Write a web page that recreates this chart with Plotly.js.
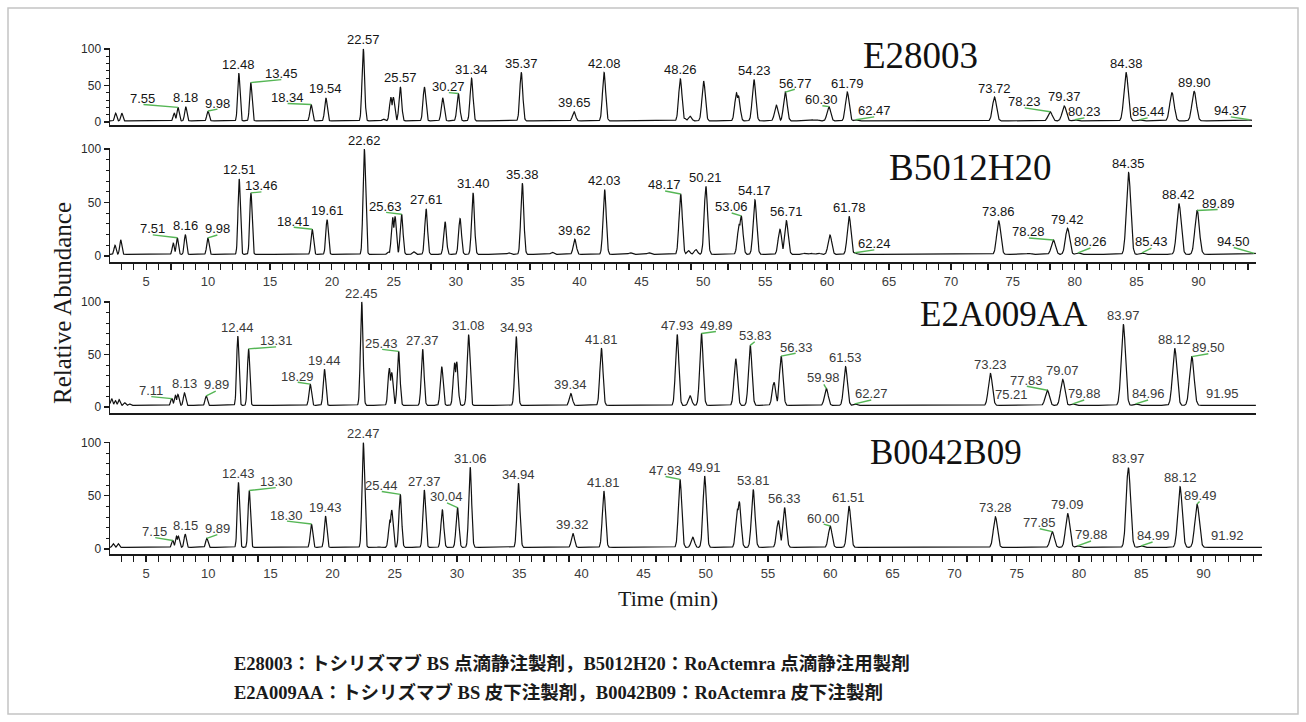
<!DOCTYPE html>
<html>
<head>
<meta charset="utf-8">
<script src="https://cdn.plot.ly/plotly-3.0.1.min.js"></script>
<style>
  html, body { margin: 0; padding: 0; background: #ffffff; }
  #chart { width: 1306px; height: 722px; }
</style>
</head>
<body>
<div id="chart"></div>
<script>
// ---- Sample names (one chromatogram per lot) ----
const sampleNames = ['E28003', 'B5012H20', 'E2A009AA', 'B0042B09'];

// ---- Peak tables: retention time (min) and apex relative abundance (%) ----
const rtE28003 = [2.5, 3.0, 7.25, 7.55, 8.18, 9.98, 12.48, 13.45, 18.34, 19.54, 22.57, 24.2, 24.8, 25.0, 25.57, 27.52, 29.0, 30.27, 31.34, 35.37, 39.65, 42.08, 48.26, 48.6, 49.04, 50.15, 52.81, 52.96, 54.23, 56.04, 56.77, 58.9, 59.3, 60.30, 61.79, 62.47, 73.72, 78.23, 79.37, 80.23, 84.38, 85.44, 88.1, 89.90, 94.37];
const hE28003  = [12, 12, 12, 20, 21, 15, 67, 54, 24, 33, 100, 4, 34, 34, 48, 48, 33, 39, 60, 68, 14, 68, 59, 5, 8, 56, 40, 36, 58, 23, 41, 3, 3, 21, 41, 3, 34, 14, 22, 3, 68, 3, 40, 42, 3];

const rtB5012H20 = [2.48, 2.94, 7.19, 7.51, 8.16, 9.98, 12.51, 13.46, 18.41, 19.61, 22.62, 24.6, 24.91, 25.1, 25.63, 26.6, 27.61, 29.14, 30.35, 31.40, 34.3, 35.38, 37.8, 39.62, 42.03, 44.1, 45.6, 48.17, 48.8, 49.4, 50.21, 52.9, 53.06, 54.17, 56.19, 56.71, 58.2, 58.7, 59.3, 60.23, 61.78, 62.24, 73.86, 76.3, 78.28, 79.42, 80.26, 84.35, 85.43, 88.42, 89.89, 94.50];
const hB5012H20  = [10, 15, 12, 17, 20, 17, 72, 59, 25, 34, 100, 4, 36, 37, 39, 4, 44, 32, 35, 59, 3, 68, 3.5, 15.6, 62, 3, 3, 58, 5, 6, 65, 30, 37.5, 52.5, 25, 33, 2.5, 2.5, 2.5, 19.7, 37, 3, 33, 2.5, 15, 26, 3, 78, 3, 49, 42.5, 2.5];

const rtE2A009AA = [2.25, 2.55, 2.85, 3.3, 3.7, 7.11, 7.4, 7.6, 8.13, 9.89, 12.44, 13.31, 18.29, 19.44, 22.45, 24.68, 24.87, 25.43, 27.37, 28.91, 29.95, 30.12, 31.08, 34.93, 37.6, 39.34, 41.81, 44.1, 45.6, 47.93, 48.97, 49.89, 52.66, 53.83, 55.75, 56.33, 59.98, 61.53, 62.27, 73.23, 75.21, 77.83, 79.07, 79.88, 83.97, 84.96, 88.12, 89.50, 91.95];
const hE2A009AA  = [8, 6, 7, 4, 3, 8, 11, 12, 13.5, 10.5, 67.6, 55.4, 21.8, 36, 100, 37, 33, 53, 55, 38.5, 42, 43, 69, 67, 2, 12.8, 56, 2, 2, 69, 10.6, 70, 46, 58.7, 23.4, 48.4, 17.6, 38.5, 3, 32, 2, 16, 26.3, 3, 78.7, 3, 55.9, 48, 2];

const rtB0042B09 = [2.37, 2.77, 7.15, 7.45, 7.6, 8.15, 9.89, 12.43, 13.30, 18.30, 19.43, 22.47, 23.7, 24.6, 24.75, 25.44, 27.37, 28.82, 30.04, 31.06, 33.7, 34.94, 37.6, 39.32, 41.81, 47.93, 48.95, 49.91, 52.55, 52.69, 53.81, 55.83, 56.33, 60.00, 61.51, 73.28, 77.85, 79.09, 79.88, 83.97, 84.99, 88.12, 89.49, 91.92];
const hB0042B09  = [5, 5, 8, 12, 12, 14, 10, 62.7, 55, 23.5, 31, 100, 2, 27, 36.7, 51.4, 55.5, 37, 39, 76.8, 2, 61.8, 2, 14.7, 54.5, 65.5, 11, 68.6, 38, 44.5, 56, 26.6, 39, 21.6, 40.4, 30.4, 16.3, 33.5, 3, 76.5, 3, 58.6, 42.3, 2];

// ---- Peak labels (retention times printed above the peaks) ----
const labE28003 = ['7.55', '8.18', '9.98', '12.48', '13.45', '18.34', '19.54', '22.57', '25.57', '30.27', '31.34', '35.37', '39.65', '42.08', '48.26', '54.23', '56.77', '60.30', '61.79', '62.47', '73.72', '78.23', '79.37', '80.23', '84.38', '85.44', '89.90', '94.37'];
const labB5012H20 = ['7.51', '8.16', '9.98', '12.51', '13.46', '18.41', '19.61', '22.62', '25.63', '27.61', '31.40', '35.38', '39.62', '42.03', '48.17', '50.21', '53.06', '54.17', '56.71', '61.78', '62.24', '73.86', '78.28', '79.42', '80.26', '84.35', '85.43', '88.42', '89.89', '94.50'];
const labE2A009AA = ['7.11', '8.13', '9.89', '12.44', '13.31', '18.29', '19.44', '22.45', '25.43', '27.37', '31.08', '34.93', '39.34', '41.81', '47.93', '49.89', '53.83', '56.33', '59.98', '61.53', '62.27', '73.23', '75.21', '77.83', '79.07', '79.88', '83.97', '84.96', '88.12', '89.50', '91.95'];
const labB0042B09 = ['7.15', '8.15', '9.89', '12.43', '13.30', '18.30', '19.43', '22.47', '25.44', '27.37', '30.04', '31.06', '34.94', '39.32', '41.81', '47.93', '49.91', '53.81', '56.33', '60.00', '61.51', '73.28', '77.85', '79.09', '79.88', '83.97', '84.99', '88.12', '89.49', '91.92'];

// ---- Caption ----
const captionLines = [
  'E28003：トシリズマブ BS 点滴静注製剤，B5012H20：RoActemra 点滴静注用製剤',
  'E2A009AA：トシリズマブ BS 皮下注製剤，B0042B09：RoActemra 皮下注製剤'
];

// ---------------------------------------------------------------------------
// Layout of the four stacked panels (pixel geometry of the page)
const W = 1306, H = 722;
const panelGeom = [
  { zeroPx: 122, pxPer: 0.73,  axisPx: 125, x0Px: 110, x1Px: 1252, xmap: [84.8, 12.34], ticks: false, labColor: '#151515', name: { x: 920,  y: 55,  size: 37 } },
  { zeroPx: 256, pxPer: 1.07,  axisPx: 262, x0Px: 110, x1Px: 1256, xmap: [84.3, 12.38], ticks: true,  labColor: '#151515', name: { x: 970,  y: 167, size: 37 } },
  { zeroPx: 407, pxPer: 1.05,  axisPx: 413, x0Px: 110, x1Px: 1256, xmap: [83.8, 12.38], ticks: false, labColor: '#3a3a3a', name: { x: 1004, y: 314, size: 35 } },
  { zeroPx: 549, pxPer: 1.063, axisPx: 554, x0Px: 110, x1Px: 1262, xmap: [83.8, 12.44], ticks: true,  labColor: '#3a3a3a', name: { x: 946,  y: 452, size: 35 } }
];

// Label placement (pixel offset of the text centre from the peak apex);
// entries flagged true get a green leader line back to the peak.
const labelPlacement = [
  { '7.55': [-35, -9, true], '9.98': [10, -8, true], '13.45': [31, -9, true], '18.34': [-24, -7, true], '30.27': [-10, -7, true],
    '56.77': [10, -9, true], '60.30': [-7, -7, true], '62.47': [19, -9, true], '78.23': [-26, -10, true], '80.23': [10, -8, true],
    '85.44': [9, -8, true], '94.37': [-19, -9, true] },
  { '7.51': [-25, -9, true], '9.98': [10, -9, true], '13.46': [11, -7, true], '18.41': [-19, -8, true], '25.63': [-16, -8, true],
    '48.17': [-16, -9, true], '53.06': [-10, -9, true], '62.24': [20, -9, true], '78.28': [-25, -8, true], '80.26': [13, -11, true],
    '85.43': [10, -11, true], '89.89': [21, -7, true], '94.50': [-21, -12, true] },
  { '7.11': [-21, -8, true], '9.89': [10, -11, true], '13.31': [28, -8, true], '18.29': [-13, -8, true], '25.43': [-17, -8, true],
    '49.89': [15, -8, true], '53.83': [5, -10, true], '56.33': [15, -9, true], '59.98': [-3, -11, true], '62.27': [17, -10, true],
    '75.21': [-3, -10, false], '77.83': [-21, -10, true], '79.88': [12, -10, true], '84.96': [13, -10, true], '89.50': [17, -9, true],
    '91.95': [0, -11, false] },
  { '7.15': [-18, -9, true], '9.89': [11, -10, true], '13.30': [27, -9, true], '18.30': [-25, -9, true], '25.44': [-19, -9, true],
    '30.04': [-11, -11, true], '47.93': [-15, -9, true], '60.00': [-7, -8, true], '77.85': [-13, -9, true], '79.88': [14, -11, true],
    '84.99': [12, -10, true], '89.49': [3, -9, true], '91.92': [0, -11, false] }
];

const peakTables = [
  [rtE28003, hE28003, labE28003],
  [rtB5012H20, hB5012H20, labB5012H20],
  [rtE2A009AA, hE2A009AA, labE2A009AA],
  [rtB0042B09, hB0042B09, labB0042B09]
];

const BASE = 1.5;          // baseline level of the detector trace (%)
const STEP = 0.02;         // sampling step of the drawn trace (min)
const peakSigma = rt => 0.08 + 0.0011 * rt;   // peaks broaden later in the run

// Build a trace from its peak table: Gaussian peak shapes on a flat baseline
function buildTrace(rts, hs, t0, t1) {
  const xs = [], ys = [];
  for (let t = t0; t <= t1 + 1e-9; t += STEP) {
    let y = BASE;
    for (let i = 0; i < rts.length; i++) {
      const s = peakSigma(rts[i]);
      const d = (t - rts[i]) / s;
      if (Math.abs(d) > 6) continue;
      const v = BASE + (hs[i] - BASE) * Math.exp(-0.5 * d * d);
      if (v > y) y = v;
    }
    xs.push(+t.toFixed(3));
    ys.push(y);
  }
  // make sure every apex is sampled exactly
  rts.forEach((r, i) => { if (r >= t0 && r <= t1) { xs.push(r); ys.push(hs[i]); } });
  const order = xs.map((x, i) => i).sort((a, b) => xs[a] - xs[b]);
  return { x: order.map(i => xs[i]), y: order.map(i => ys[i]) };
}

const pxX = px => px / W;
const pxY = py => 1 - py / H;
const LABEL_FONT = 'Arial, "Liberation Sans", sans-serif';
const SERIF = '"Liberation Serif", "Times New Roman", serif';

const traces = [];
const annotations = [];
const layout = {
  width: W, height: H,
  margin: { l: 0, r: 0, t: 0, b: 0 },
  paper_bgcolor: '#ffffff',
  plot_bgcolor: 'rgba(0,0,0,0)',
  showlegend: false,
  font: { family: LABEL_FONT, color: '#222' },
  shapes: [
    { type: 'rect', xref: 'paper', yref: 'paper',
      x0: pxX(8), x1: pxX(1298), y0: pxY(714), y1: pxY(8),
      line: { color: '#c4c4c4', width: 1.5 }, fillcolor: 'rgba(0,0,0,0)' }
  ],
  annotations: annotations
};

panelGeom.forEach((g, p) => {
  const suffix = p === 0 ? '' : String(p + 1);
  const xName = 'x' + suffix, yName = 'y' + suffix;
  const t0 = (g.x0Px - g.xmap[0]) / g.xmap[1];
  const t1 = (g.x1Px - g.xmap[0]) / g.xmap[1];
  const yBottom = -(g.axisPx - g.zeroPx) / g.pxPer;
  const yTop = 101;
  const topPx = g.zeroPx - yTop * g.pxPer;

  const [rts, hs, labs] = peakTables[p];
  const tr = buildTrace(rts, hs, t0, t1);
  traces.push({
    type: 'scatter', mode: 'lines', x: tr.x, y: tr.y,
    xaxis: xName, yaxis: yName,
    line: { color: '#111111', width: 1.2 },
    hoverinfo: 'skip'
  });

  layout['xaxis' + suffix] = {
    domain: [pxX(g.x0Px), pxX(g.x1Px)],
    range: [t0, t1],
    anchor: yName,
    showgrid: false, zeroline: false,
    showline: true, linecolor: '#1a1a1a', linewidth: 2,
    ticks: g.ticks ? 'outside' : '',
    ticklen: 6, tickwidth: 1.2, tickcolor: '#1a1a1a',
    tick0: 0, dtick: 5,
    showticklabels: g.ticks,
    tickfont: { family: LABEL_FONT, size: 13, color: '#3c3c3c' },
    minor: g.ticks ? { dtick: 1, tick0: 0, ticks: 'outside', ticklen: 6, tickwidth: 1.2, tickcolor: '#1a1a1a', showgrid: false } : undefined
  };
  layout['yaxis' + suffix] = {
    domain: [pxY(g.axisPx), pxY(topPx)],
    range: [yBottom, yTop],
    anchor: xName,
    showgrid: false, zeroline: false,
    showline: true, linecolor: '#1a1a1a', linewidth: 1.5,
    ticks: 'outside', ticklen: 5, tickwidth: 1.2, tickcolor: '#1a1a1a',
    tickvals: [0, 50, 100],
    ticktext: ['0', '50', '100'],
    tickfont: { family: LABEL_FONT, size: 12, color: '#2a2a2a' },
    minor: { tickvals: [10, 20, 30, 40, 60, 70, 80, 90], ticks: 'outside', ticklen: 3, tickwidth: 1, tickcolor: '#1a1a1a', showgrid: false }
  };

  // peak labels, with green leader lines where the label sits off to one side
  labs.forEach(lab => {
    const rt = parseFloat(lab);
    const i = rts.findIndex(r => Math.abs(r - rt) < 1e-6);
    const h = i >= 0 ? hs[i] : BASE;
    const place = labelPlacement[p][lab] || [0, -9, false];
    if (place[2]) {
      annotations.push({
        xref: xName, yref: yName, x: rt, y: h,
        text: ' ', font: { size: 1 },
        showarrow: true, ax: place[0], ay: place[1] + 6,
        arrowhead: 0, arrowwidth: 1.4, standoff: 0, startstandoff: 0,
        arrowcolor: '#55b655', borderpad: 0
      });
    }
    annotations.push({
      xref: xName, yref: yName, x: rt, y: h,
      xanchor: 'center', yanchor: 'middle',
      xshift: place[0], yshift: -place[1],
      text: lab, showarrow: false, borderpad: 0,
      font: { family: LABEL_FONT, size: 13, color: g.labColor }
    });
  });

  // sample name
  annotations.push({
    xref: 'paper', yref: 'paper', x: pxX(g.name.x), y: pxY(g.name.y),
    xanchor: 'center', yanchor: 'middle', showarrow: false,
    text: sampleNames[p],
    font: { family: SERIF, size: g.name.size, color: '#111111' }
  });
});

// axis titles
annotations.push({
  xref: 'paper', yref: 'paper', x: pxX(668), y: pxY(598),
  xanchor: 'center', yanchor: 'middle', showarrow: false,
  text: 'Time (min)',
  font: { family: SERIF, size: 22, color: '#1a1a1a' }
});
annotations.push({
  xref: 'paper', yref: 'paper', x: pxX(62), y: pxY(303),
  xanchor: 'center', yanchor: 'middle', showarrow: false, textangle: -90,
  text: 'Relative Abundance',
  font: { family: SERIF, size: 25, color: '#1a1a1a' }
});

// caption
captionLines.forEach((line, k) => {
  annotations.push({
    xref: 'paper', yref: 'paper', x: pxX(232), y: pxY(663 + 29 * k),
    xanchor: 'left', yanchor: 'middle', showarrow: false,
    text: '<b>' + line + '</b>',
    font: { family: '"Liberation Serif", "Noto Sans CJK JP", serif', size: 18.5, color: '#1a1a1a' }
  });
});

Plotly.newPlot('chart', traces, layout, { staticPlot: true, displayModeBar: false });
</script>
</body>
</html>
